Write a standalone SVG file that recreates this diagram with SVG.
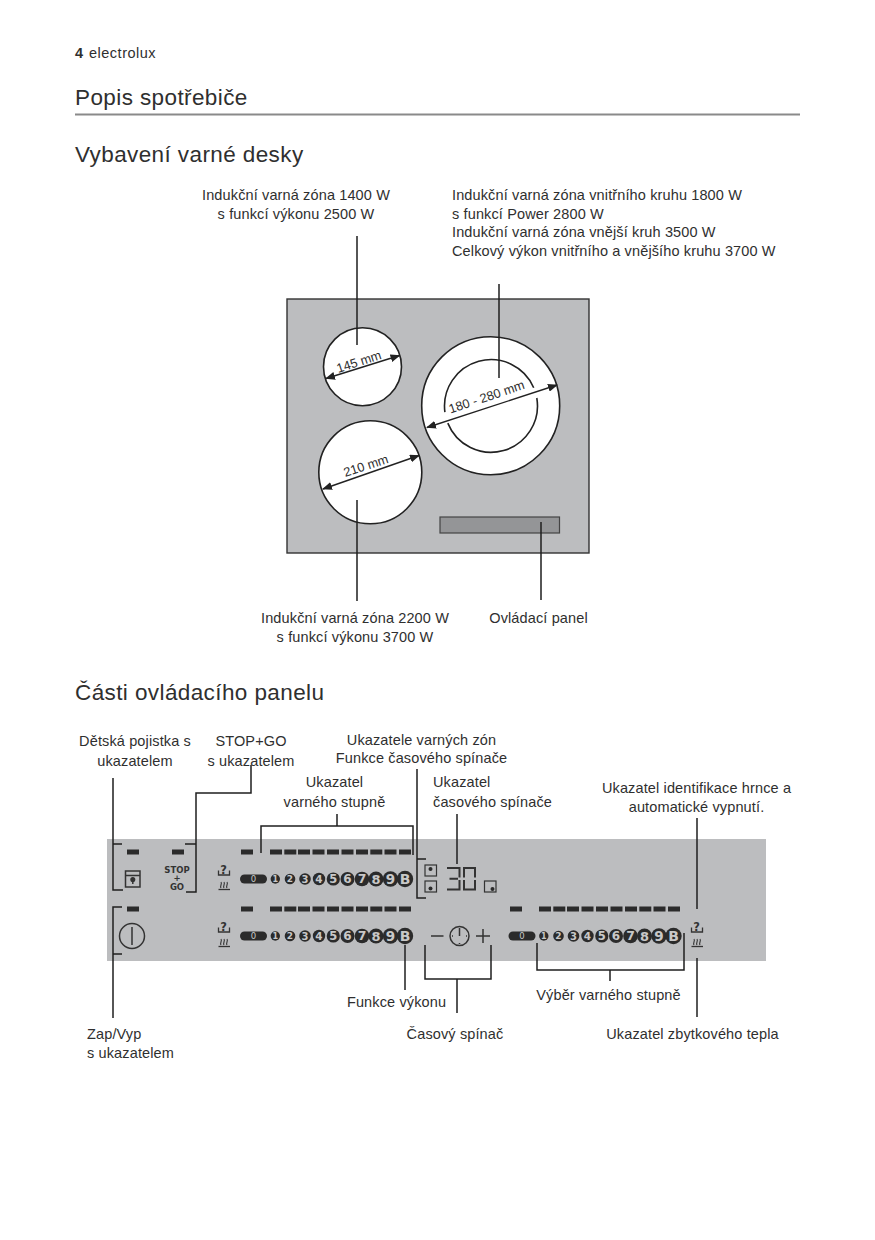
<svg xmlns="http://www.w3.org/2000/svg" width="875" height="1240" viewBox="0 0 875 1240">
<style>
text{font-family:"Liberation Sans",Arial,sans-serif;font-size:14.5px;letter-spacing:.13px;fill:#2f2f2f}
.h{font-size:22.5px;letter-spacing:.4px}
.m{text-anchor:middle}
.c{fill:none;stroke:#1f1f1f;stroke-width:1.5}
.b{fill:#2b2b2b}
.n{font-family:"DejaVu Sans",sans-serif;font-weight:bold;fill:#c8c8c8;text-anchor:middle;letter-spacing:0}
.i{fill:none;stroke:#333;stroke-width:1.5}
.z{fill:#fff;stroke:#222;stroke-width:1.6}
.d{stroke:#222;stroke-width:1.4;marker-start:url(#a);marker-end:url(#a)}
.s{font-size:12.8px;letter-spacing:0}
.g{font-family:"DejaVu Sans",sans-serif;font-weight:bold;font-size:8.5px;fill:#333;text-anchor:middle;letter-spacing:0}
.q{font-family:"DejaVu Sans",sans-serif;font-weight:bold;font-size:11.5px;fill:#333;stroke:none;text-anchor:middle;letter-spacing:0}
</style>
<defs>
<marker id="a" viewBox="0 0 10 8" refX="9" refY="4" markerWidth="10" markerHeight="8" markerUnits="userSpaceOnUse" orient="auto-start-reverse"><path d="M0 0L10 4L0 8Z" fill="#222"/></marker>
<g id="bars" class="b">
<rect x="241" y="-2.5" width="12" height="5"/>
<rect x="270" y="-2.5" width="12" height="5"/><rect x="284.3" y="-2.5" width="12" height="5"/><rect x="298" y="-2.5" width="12" height="5"/><rect x="312.5" y="-2.5" width="12" height="5"/><rect x="327" y="-2.5" width="12" height="5"/><rect x="341.5" y="-2.5" width="12" height="5"/><rect x="356" y="-2.5" width="12" height="5"/><rect x="370.3" y="-2.5" width="12" height="5"/><rect x="384.5" y="-2.5" width="12" height="5"/><rect x="399" y="-2.5" width="12" height="5"/>
</g>
<g id="scale">
<rect x="240" y="-4.5" width="27" height="9" rx="4.5" class="b"/><text x="253.5" y="3" class="n" style="font-size:8.5px;font-weight:normal">0</text>
<circle cx="275.3" cy="0" r="4.7" class="b"/><text x="275.3" y="3" class="n" style="font-size:8px">1</text>
<circle cx="290" cy="0" r="5.3" class="b"/><text x="290" y="3.2" class="n" style="font-size:9px">2</text>
<circle cx="305" cy="0" r="5.8" class="b"/><text x="305" y="3.5" class="n" style="font-size:10px">3</text>
<circle cx="319" cy="0" r="6.2" class="b"/><text x="319" y="3.7" class="n" style="font-size:10.5px">4</text>
<circle cx="333.3" cy="0" r="6.6" class="b"/><text x="333.3" y="4" class="n" style="font-size:11.5px">5</text>
<circle cx="347.5" cy="0" r="7" class="b"/><text x="347.5" y="4.2" class="n" style="font-size:12px">6</text>
<circle cx="362" cy="0" r="7.3" class="b"/><text x="362" y="4.4" class="n" style="font-size:12.5px">7</text>
<circle cx="376" cy="0" r="7.5" class="b"/><text x="376" y="4.6" class="n" style="font-size:13px">8</text>
<circle cx="390.5" cy="0" r="7.7" class="b"/><text x="390.5" y="4.7" class="n" style="font-size:13.5px">9</text>
<circle cx="405" cy="0" r="8.2" class="b"/><text x="405" y="5" class="n" style="font-size:14px">B</text>
</g>
<g id="pot" class="i">
<path d="M-5.5 -7.5V-3H5.5V-7.5" style="stroke-width:1.3"/>
<path d="M-5.5 11.5H6" style="stroke-width:1.3"/>
<path d="M-3 10C-4.5 8 -1.5 6 -3 4M0 10C-1.5 8 1.500 6 0 4M3 10C1.500 8 4.500 6 3 4" style="stroke-width:1.100"/>
<text x="-0.500" y="-4" class="q">?</text>
</g>
</defs>
<rect width="875" height="1240" fill="#fff"/>
<g id="header">
<text x="75" y="58" style="font-weight:bold">4</text><text x="89" y="58" style="letter-spacing:.5px">electrolux</text>
<text x="75" y="105" class="h">Popis spotřebiče</text>
<rect x="75" y="113.500" width="725" height="2" fill="#8a8a8a"/>
<text x="75" y="162" class="h">Vybavení varné desky</text>
<text x="75" y="700" class="h">Části ovládacího panelu</text>
</g>
<g id="hob">
<rect x="287" y="299" width="302" height="254" fill="#bcbdbf" stroke="#333" stroke-width="1.400"/>
<rect x="440" y="517" width="119.500" height="16" fill="#949597" stroke="#444" stroke-width="1.200"/>
</g>
<g id="zone-145"><circle cx="362.500" cy="366.700" r="39" class="z"/>
<line x1="326" y1="378.500" x2="399.500" y2="355.500" class="d"/>
<text x="359" y="366" class="s m" transform="rotate(-18 359 362)">145 mm</text></g>
<g id="zone-280"><circle cx="490.700" cy="405.700" r="69" class="z"/>
<path d="M447.800 423.100A46.500 46.500 0 0 0 536.800 398M533.700 387.700A46.500 46.500 0 0 0 444.900 412.100" fill="none" stroke="#222" stroke-width="1.600"/>
<path d="M427 427.500L557 385" class="d"/>
<text x="488" y="401" class="s m" transform="rotate(-18.500 488 401)">180 - 280 mm</text></g>
<g id="zone-210"><circle cx="370.300" cy="472.300" r="51.500" class="z"/>
<line x1="323" y1="489" x2="419" y2="455.500" class="d"/>
<text x="366" y="470" class="s m" transform="rotate(-18 366 466)">210 mm</text></g>
<g id="hob-labels">
<text x="296" y="200" class="m">Indukční varná zóna 1400 W</text>
<text x="296" y="219" class="m">s funkcí výkonu 2500 W</text>
<text x="452" y="200">Indukční varná zóna vnitřního kruhu 1800 W</text>
<text x="452" y="219">s funkcí Power 2800 W</text>
<text x="452" y="237">Indukční varná zóna vnější kruh 3500 W</text>
<text x="452" y="256">Celkový výkon vnitřního a vnějšího kruhu 3700 W</text>
<text x="355" y="623" class="m">Indukční varná zóna 2200 W</text>
<text x="355" y="642" class="m">s funkcí výkonu 3700 W</text>
<text x="538.500" y="623" class="m">Ovládací panel</text>
</g>
<g id="panel">
<rect x="107" y="839" width="659" height="122" fill="#bcbdbf"/>
<g class="b"><rect x="127" y="849.500" width="12" height="5"/><rect x="172" y="849.500" width="12" height="5"/><rect x="127" y="906.500" width="12" height="5"/></g>
<use href="#bars" y="852"/><use href="#bars" y="909"/><use href="#bars" x="269" y="909"/>
<use href="#scale" y="879"/><use href="#scale" y="936"/><use href="#scale" x="268.500" y="936"/>
<g id="lock" class="i"><rect x="125.500" y="871" width="14.500" height="16"/><path d="M125.500 875.500H140"/><circle cx="132.800" cy="879.500" r="1.800" fill="#333"/><path d="M132.800 880V884"/></g>
<g id="stop"><text x="177" y="873" class="g">STOP</text><text x="177" y="881" class="g">+</text><text x="177" y="889.500" class="g">GO</text></g>
<g id="power" class="i"><circle cx="132" cy="936" r="12.500"/><path d="M132 927V945"/></g>
<use href="#pot" x="224" y="878"/><use href="#pot" x="224" y="935"/><use href="#pot" x="697" y="935"/>
<g id="zones" class="i" style="stroke-width:1.200"><rect x="425" y="865" width="11.500" height="11"/><rect x="425" y="881" width="11.500" height="11"/><rect x="484.500" y="881" width="11.500" height="11"/></g>
<g class="b"><circle cx="430.500" cy="869" r="2"/><circle cx="430.500" cy="888.500" r="2"/><circle cx="492.500" cy="889" r="2"/></g>
<g id="timer30" fill="none" stroke="#333" stroke-width="2"><path d="M447 868H459.500V877.500M459.500 880V889.500H447M449.500 878.700H458M464 877.500V868H475V877.500M464 880V889.500H475V880"/></g>
<g id="timer" class="i"><circle cx="459.500" cy="936" r="9.500"/><path d="M459.500 928V936M452 936H453M466 936H467M459.500 943V944"/><path d="M431 936H443.500M476 936H490M483 929V943"/></g>
</g>
<g id="connectors" class="c">
<path d="M357 236V345M357 500V601M499 284V378M541 522V600"/>
<path d="M113 778V890H123M113 844H122"/>
<path d="M251 765V793H196V892H186M196 844H185"/>
<path d="M261 853V826H413V855M337 814V826"/>
<path d="M417 769V898H426M417 859H426"/>
<path d="M457 814V864"/>
<path d="M697 818V909"/>
<path d="M113 1018V907H122M113 954H122"/>
<path d="M405 945V990"/>
<path d="M425 945V979H491V945M457 979V1013"/>
<path d="M537 943V970H684V933M610 970V981"/>
<path d="M697 958V1017"/>
</g>
<g id="panel-labels">
<text x="135" y="746" class="m">Dětská pojistka s</text><text x="135" y="766" class="m">ukazatelem</text>
<text x="251" y="746" class="m">STOP+GO</text><text x="251" y="766" class="m">s ukazatelem</text>
<text x="334.500" y="787" class="m">Ukazatel</text><text x="334.500" y="807" class="m">varného stupně</text>
<text x="421.500" y="745" class="m">Ukazatele varných zón</text><text x="421.500" y="763" class="m">Funkce časového spínače</text>
<text x="433" y="787">Ukazatel</text><text x="433" y="807">časového spínače</text>
<text x="696.500" y="793" class="m">Ukazatel identifikace hrnce a</text><text x="696.500" y="812" class="m">automatické vypnutí.</text>
<text x="396.500" y="1007" class="m">Funkce výkonu</text>
<text x="608.500" y="1000" class="m">Výběr varného stupně</text>
<text x="455" y="1039" class="m">Časový spínač</text>
<text x="692.500" y="1039" class="m">Ukazatel zbytkového tepla</text>
<text x="87" y="1039">Zap/Vyp</text><text x="87" y="1058">s ukazatelem</text>
</g>
</svg>
